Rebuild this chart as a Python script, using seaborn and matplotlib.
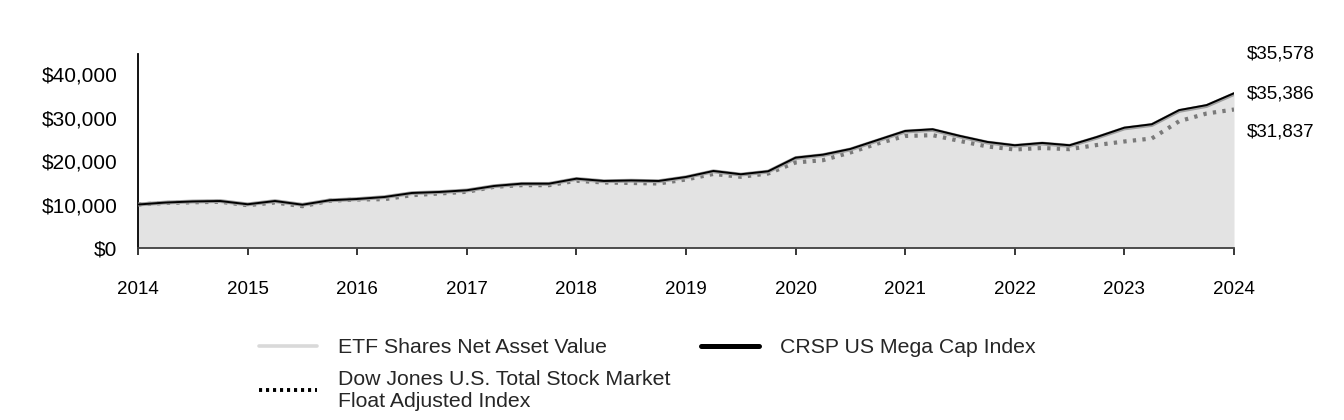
import matplotlib
matplotlib.use("Agg")
import matplotlib.pyplot as plt
from matplotlib.lines import Line2D
import seaborn as sns
import pandas as pd

# ---- data (quarterly, growth of $10,000) ----
quarters = [2014 + i / 4 for i in range(41)]
etf = [10000, 10440, 10690, 10790, 10030, 10780, 9930, 10950, 11240, 11700,
       12610, 12840, 13230, 14210, 14740, 14740, 15880, 15350, 15470, 15350,
       16260, 17630, 16870, 17560, 20670, 21350, 22650, 24710, 26770, 27150,
       25620, 24240, 23490, 24010, 23480, 25380, 27490, 28280, 31510, 32650,
       35386]
crsp = [10000, 10450, 10700, 10800, 10050, 10800, 9950, 10980, 11270, 11730,
        12650, 12880, 13270, 14260, 14790, 14790, 15940, 15410, 15530, 15410,
        16330, 17710, 16950, 17640, 20770, 21460, 22770, 24840, 26910, 27300,
        25760, 24380, 23620, 24150, 23620, 25530, 27660, 28450, 31700, 32850,
        35578]
dj = [10000, 10350, 10510, 10630, 9840, 10460, 9610, 10860, 11150, 11220,
      12140, 12530, 12920, 14070, 14440, 14440, 15450, 15060, 14950, 14830,
      15750, 17020, 16370, 17130, 19660, 20190, 21960, 24030, 25750, 25940,
      24600, 23340, 22650, 22990, 22720, 23680, 24490, 25180, 29150, 30920,
      31837]
series_names = ["ETF Shares Net Asset Value", "CRSP US Mega Cap Index",
                "Dow Jones U.S. Total Stock Market\nFloat Adjusted Index"]
end_labels = ["$35,578", "$35,386", "$31,837"]
year_ticks = list(range(2014, 2025))
y_ticks = [0, 10000, 20000, 30000, 40000]

sns.set_style("white")
plt.rcParams["font.family"] = ["Liberation Sans", "DejaVu Sans"]

W, H = 1344, 420
fig = plt.figure(figsize=(W / 100, H / 100), dpi=100)
ax = fig.add_axes([138 / W, 1 - 248 / H, (1234 - 138) / W, (248 - 54) / H])

df = pd.DataFrame({"t": quarters, "etf": etf, "crsp": crsp, "dj": dj})

ax.fill_between(df["t"], df["etf"], 0, color="#e3e3e3", lw=0, zorder=1)
sns.lineplot(data=df, x="t", y="dj", ax=ax, color="#7a7a7a", lw=3.0,
             linestyle=(0, (0.8, 1.5)), zorder=2)
sns.lineplot(data=df, x="t", y="etf", ax=ax, color="#a0a0a0", lw=2.8, zorder=3)
sns.lineplot(data=df, x="t", y="crsp", ax=ax, color="#000000", lw=1.4, zorder=4)

ax.set_xlim(2014, 2024)
ax.set_ylim(0, 44600)
ax.set_xticks(year_ticks)
ax.set_xticklabels([str(y) for y in year_ticks])
ax.set_yticks(y_ticks)
ax.set_yticklabels([f"${v:,.0f}" for v in y_ticks])
ax.set_xlabel("")
ax.set_ylabel("")
ax.tick_params(axis="x", length=5, width=1.1, color="black", pad=18.5,
               labelsize=13.5, labelcolor="black", direction="out", bottom=True)
ax.tick_params(axis="y", length=0, pad=15, labelsize=15, labelcolor="black")
for s in ["top", "right"]:
    ax.spines[s].set_visible(False)
ax.spines["left"].set_color("black")
ax.spines["left"].set_linewidth(1.3)
ax.spines["bottom"].set_color("#404040")
ax.spines["bottom"].set_linewidth(1.3)
ax.set_facecolor("white")

for lab, ypx in zip(end_labels, [54, 94, 132]):
    fig.text(1247 / W, 1 - ypx / H, lab, ha="left", va="center",
             fontsize=13.5, color="black")

handles = [
    Line2D([], [], color="#d9d9d9", lw=2.6),
    Line2D([], [], color="black", lw=2.8, linestyle=(0, (0.8, 1.0))),
    Line2D([], [], color="black", lw=3.6),
]
labels = [series_names[0], series_names[2], series_names[1]]
fig.legend(handles, labels, ncol=2, loc="upper left",
           bbox_to_anchor=(259 / W, 1 - 338 / H), frameon=False,
           fontsize=15.3, handlelength=2.75, handletextpad=0.95,
           columnspacing=1.45, labelspacing=0.6, borderpad=0, borderaxespad=0)

fig.savefig("out.png", dpi=100)
